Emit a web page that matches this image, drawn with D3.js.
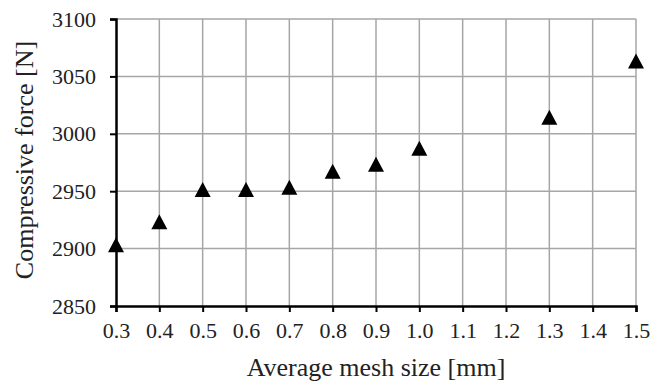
<!DOCTYPE html>
<html>
<head>
<meta charset="utf-8">
<script src="https://cdn.jsdelivr.net/npm/d3@7"></script>
<style>
  body { margin: 0; background: #fff; }
  svg { display: block; }
</style>
</head>
<body>
<div id="chart"></div>
<script>
// mesh size [mm] and compressive force [N]
const meshSize = [0.3, 0.4, 0.5, 0.6, 0.7, 0.8, 0.9, 1.0, 1.3, 1.5];
const force = [2903, 2923, 2951, 2951, 2953, 2967, 2973, 2987, 3014, 3063];
const xTicks = [0.3, 0.4, 0.5, 0.6, 0.7, 0.8, 0.9, 1.0, 1.1, 1.2, 1.3, 1.4, 1.5];
const yTicks = [2850, 2900, 2950, 3000, 3050, 3100];

const width = 651, height = 383;
const margin = { top: 19, right: 15, bottom: 77, left: 116 };
const serif = "'Liberation Serif', 'Times New Roman', serif";

const svg = d3.select("#chart").append("svg")
  .attr("width", width)
  .attr("height", height)
  .attr("font-family", serif);

const x = d3.scaleLinear().domain([0.3, 1.5]).range([margin.left, width - margin.right]);
const y = d3.scaleLinear().domain([2850, 3100]).range([height - margin.bottom, margin.top]);

// gridlines
svg.append("g")
  .attr("stroke", "#a6a6a6")
  .attr("stroke-width", 1.5)
  .selectAll("line")
  .data(xTicks.slice(1))
  .join("line")
  .attr("x1", d => x(d)).attr("x2", d => x(d))
  .attr("y1", y(3100)).attr("y2", y(2850));

svg.append("g")
  .attr("stroke", "#a6a6a6")
  .attr("stroke-width", 1.5)
  .selectAll("line")
  .data(yTicks.slice(1))
  .join("line")
  .attr("x1", x(0.3)).attr("x2", x(1.5))
  .attr("y1", d => y(d)).attr("y2", d => y(d));

// axes
const xAxis = svg.append("g")
  .attr("transform", `translate(0,${y(2850)})`)
  .call(d3.axisBottom(x).tickValues(xTicks).tickFormat(d3.format(".1f")).tickSizeOuter(0).tickSize(6).tickPadding(10));

const yAxis = svg.append("g")
  .attr("transform", `translate(${x(0.3)},0)`)
  .call(d3.axisLeft(y).tickValues(yTicks).tickFormat(d3.format("d")).tickSizeOuter(0).tickSize(6).tickPadding(14));

[xAxis, yAxis].forEach(g => {
  g.attr("font-family", null).attr("font-size", null);
  g.select(".domain").attr("stroke", "#000").attr("stroke-width", 2.5);
  g.selectAll(".tick line").attr("stroke", "#000").attr("stroke-width", 2);
  g.selectAll(".tick text")
    .attr("fill", "#222")
    .style("font-family", serif)
    .style("font-size", "22px");
});

// markers
svg.append("g")
  .selectAll("path")
  .data(meshSize)
  .join("path")
  .attr("transform", (d, i) => `translate(${x(d)},${y(force[i])})`)
  .attr("d", "M0,-8 L8,7 L-8,7 Z")
  .attr("fill", "#000");

// axis titles
svg.append("text")
  .attr("x", (x(0.3) + x(1.5)) / 2)
  .attr("y", 376)
  .attr("text-anchor", "middle")
  .attr("fill", "#222")
  .style("font-family", serif)
  .style("font-size", "26px")
  .text("Average mesh size [mm]");

svg.append("text")
  .attr("transform", `translate(33,160) rotate(-90)`)
  .attr("text-anchor", "middle")
  .attr("fill", "#222")
  .style("font-family", serif)
  .style("font-size", "26px")
  .text("Compressive force [N]");
</script>
</body>
</html>
